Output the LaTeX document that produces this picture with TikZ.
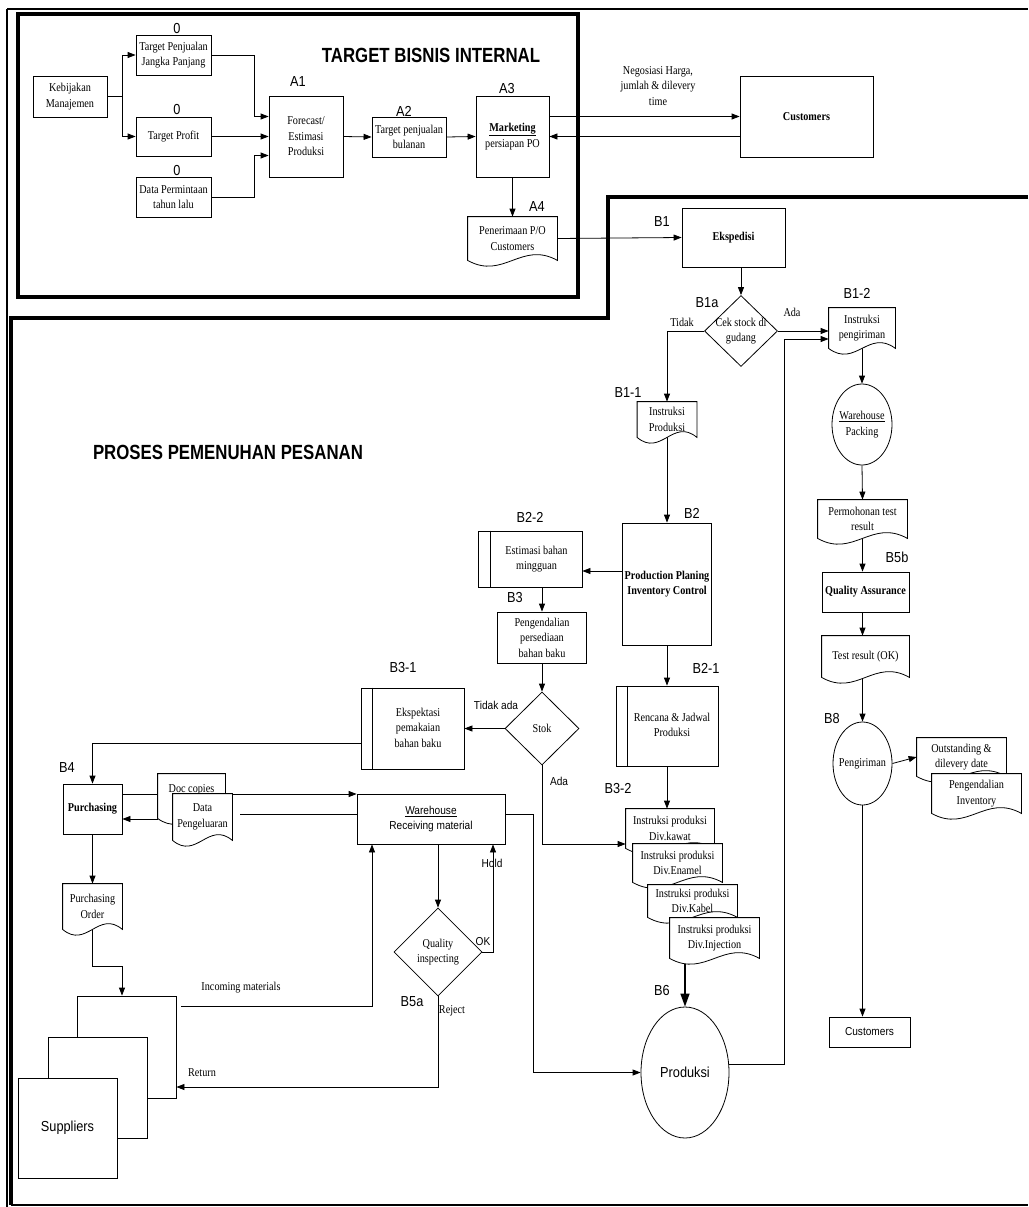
\documentclass[tikz,border=0pt]{standalone}
\usepackage{fontspec}
\setmainfont[FakeStretch=0.85]{Liberation Serif}
\newfontfamily\san[FakeStretch=0.88]{Liberation Sans}
\newfontfamily\hd[FakeStretch=0.82]{Liberation Sans}
\usetikzlibrary{shapes.geometric,arrows.meta,calc}
\pgfdeclarelayer{bg}
\pgfsetlayers{bg,main}
\newcommand\tbx[1]{\begin{tabular}{@{}c@{}}#1\end{tabular}}
\newdimen\dwA \newdimen\dwB \newdimen\dwC \newdimen\dwD
\makeatletter
\pgfdeclareshape{docu}{
  \inheritsavedanchors[from=rectangle]
  \inheritanchorborder[from=rectangle]
  \inheritanchor[from=rectangle]{center}
  \inheritanchor[from=rectangle]{north}
  \inheritanchor[from=rectangle]{south}
  \inheritanchor[from=rectangle]{east}
  \inheritanchor[from=rectangle]{west}
  \inheritanchor[from=rectangle]{north east}
  \inheritanchor[from=rectangle]{north west}
  \inheritanchor[from=rectangle]{south east}
  \inheritanchor[from=rectangle]{south west}
  \inheritanchor[from=rectangle]{text}
  \inheritanchor[from=rectangle]{base}
  \inheritanchor[from=rectangle]{mid}
  \backgroundpath{%
    \southwest \pgf@xa=\pgf@x \pgf@ya=\pgf@y
    \northeast \pgf@xb=\pgf@x \pgf@yb=\pgf@y
    \pgf@xc=\pgf@xb \advance\pgf@xc by -\pgf@xa
    \dwA=\pgf@xb \advance\dwA by -.4\pgf@xc
    \dwB=\pgf@xa \advance\dwB by .4\pgf@xc
    \dwC=\pgf@ya \advance\dwC by 20pt
    \dwD=\pgf@ya \advance\dwD by -20pt
    \pgfpathmoveto{\pgfqpoint{\pgf@xa}{\pgf@yb}}
    \pgfpathlineto{\pgfqpoint{\pgf@xb}{\pgf@yb}}
    \pgfpathlineto{\pgfqpoint{\pgf@xb}{\pgf@ya}}
    \pgfpathcurveto{\pgfqpoint{\dwA}{\dwC}}{\pgfqpoint{\dwB}{\dwD}}{\pgfqpoint{\pgf@xa}{\pgf@ya}}
    \pgfpathclose
  }
}
\makeatother
\tikzset{
 txt/.style={font=\fontsize{12}{15.5}\selectfont, align=center, inner sep=1pt},
 box/.style={txt, draw, fill=white, line width=0.8pt, rectangle},
 sbox/.style={box, font=\san\fontsize{11.5}{14.5}\selectfont},
 doc/.style={txt, draw, fill=white, line width=0.8pt, shape=docu},
 dia/.style={txt, draw, fill=white, line width=0.8pt, diamond, aspect=1},
 ell/.style={txt, draw, fill=white, line width=0.8pt, ellipse, inner sep=0pt},
 lbl/.style={font=\san\fontsize{14.5}{16}\selectfont, inner sep=0pt},
 slbl/.style={font=\san\fontsize{11.5}{13}\selectfont, inner sep=0pt},
 head/.style={font=\hd\bfseries\fontsize{20.5}{24}\selectfont, inner sep=0pt},
 arr/.style={line width=0.8pt, -{Triangle[length=8pt,width=6pt]}},
 arrB/.style={line width=1.4pt, -{Triangle[length=13pt,width=9pt]}},
 ln/.style={line width=0.8pt},
}
\begin{document}
\begin{tikzpicture}[x=1pt,y=-1pt]
\useasboundingbox (0,0) rectangle (1028,1207);
% frame
\draw[line width=2.5pt] (7,9) -- (1028,9);
\draw[line width=1.5pt] (7,9) -- (7,1207);
\draw[line width=4pt] (18,14) rectangle (578,297);
\draw[line width=4pt] (1028,197) -- (608,197) -- (608,318) -- (11,318) -- (11,1205);
\draw[line width=2pt] (11,1205) -- (1028,1205);

% ---------- top part
\node[head] (thead) at (431,55) {TARGET BISNIS INTERNAL};
\node[box, minimum width=74, minimum height=41] (keb) at (70,96.5) {Kebijakan\\Manajemen};
\node[box, minimum width=75, minimum height=40] (tpj) at (173.5,55) {Target Penjualan\\Jangka Panjang};
\node[box, minimum width=75, minimum height=39] (tpr) at (173.5,136.5) {Target Profit};
\node[box, minimum width=75, minimum height=40] (dpt) at (173.5,197) {Data Permintaan\\tahun lalu};
\node[lbl] (z1) at (177,29) {0};
\node[lbl] (z2) at (177,110) {0};
\node[lbl] (z3) at (177,171) {0};
\node[box, minimum width=74, minimum height=81] (a1) at (306,136.5) {Forecast/\\Estimasi\\Produksi};
\node[lbl] (la1) at (298,82) {A1};
\node[box, minimum width=74, minimum height=40] (a2) at (409,137) {Target penjualan\\bulanan};
\node[lbl] (la2) at (404,111) {A2};
\node[box, minimum width=73, minimum height=81] (a3) at (512.5,136.5) {\underline{\textbf{Marketing}}\\persiapan PO};
\node[lbl] (la3) at (507,89) {A3};
\node[doc, minimum width=89, minimum height=43] (a4) at (512.5,238.5) {Penerimaan P/O\\Customers};
\node[lbl] (la4) at (537,207) {A4};
\node[box, minimum width=133, minimum height=81] (cust) at (806.5,116.5) {\textbf{Customers}};
\node[txt] (neg) at (658,86) {Negosiasi Harga,\\jumlah \& dilevery\\time};

% ---------- lower part
\node[head] (phead) at (228,452) {PROSES PEMENUHAN PESANAN};
\node[box, minimum width=103, minimum height=59] (eks) at (733.5,237.5) {\textbf{Ekspedisi}};
\node[lbl] (lb1) at (662,222) {B1};
\node[dia, inner sep=-5pt, minimum width=73, minimum height=71] (b1a) at (741,331) {Cek stock di\\gudang};
\node[lbl] (lb1a) at (707,303) {B1a};
\node[txt] (ada1) at (792,312) {Ada};
\node[txt] (tdk) at (682,322) {Tidak};
\node[doc, minimum width=66, minimum height=40] (b12) at (862,328) {Instruksi\\pengiriman};
\node[lbl] (lb12) at (857,293) {B1-2};
\node[doc, minimum width=59, minimum height=35] (b11) at (667,419.5) {Instruksi\\Produksi};
\node[lbl] (lb11) at (628,393) {B1-1};
\node[box, minimum width=89, minimum height=122] (b2) at (667,584) {\textbf{Production Planing}\\\textbf{Inventory Control}};
\node[lbl] (lb2) at (692,513) {B2};
\node[box, minimum width=104, minimum height=56] (b22) at (530,559) {\hspace*{13pt}\tbx{Estimasi bahan\\mingguan}};
\draw[ln] ([xshift=13pt]b22.north west) -- ([xshift=13pt]b22.south west);
\node[lbl] (lb22) at (530,517) {B2-2};
\node[box, minimum width=89, minimum height=51] (b3) at (542,637.5) {Pengendalian\\persediaan\\bahan baku};
\node[lbl] (lb3) at (515,598) {B3};
\node[dia, inner sep=0pt, minimum width=74, minimum height=73] (stok) at (542,728.5) {Stok};
\node[slbl] (tda) at (496,705) {Tidak ada};
\node[box, minimum width=103, minimum height=81] (b31) at (412.5,728.5) {\hspace*{11pt}\tbx{Ekspektasi\\pemakaian\\bahan baku}};
\draw[ln] ([xshift=12pt]b31.north west) -- ([xshift=12pt]b31.south west);
\node[lbl] (lb31) at (403,668) {B3-1};
\node[box, minimum width=102, minimum height=80] (b21) at (667,726) {\hspace*{10pt}\tbx{Rencana \& Jadwal\\Produksi}};
\draw[ln] ([xshift=12pt]b21.north west) -- ([xshift=12pt]b21.south west);
\node[lbl] (lb21) at (706,668) {B2-1};
\node[slbl] (ada2) at (559,781) {Ada};
\node[doc, minimum width=88, minimum height=39] (d1) at (670,828.5) {Instruksi produksi\\Div.kawat};
\node[doc, minimum width=89, minimum height=38] (d2) at (677.5,863) {Instruksi produksi\\Div.Enamel};
\node[doc, minimum width=89, minimum height=32] (d3) at (692.5,901) {Instruksi produksi\\Div.Kabel};
\node[doc, minimum width=89, minimum height=40] (d4) at (714.5,938) {Instruksi produksi\\Div.Injection};
\node[lbl] (lb32) at (618,788) {B3-2};
\node[ell, font=\san\fontsize{14.5}{16}\selectfont, minimum width=88, minimum height=131] (prod) at (685,1072.5) {Produksi};
\node[lbl] (lb6) at (662,990) {B6};

% right column
\node[ell, inner xsep=-8pt, minimum width=60, minimum height=81] (wp) at (862,424.5) {\underline{Warehouse}\\Packing};
\node[doc, minimum width=89, minimum height=38] (ptr) at (862.5,519) {Permohonan test\\result};
\node[lbl] (lb5b) at (897,557) {B5b};
\node[box, minimum width=87, minimum height=40] (qa) at (865.5,592) {\textbf{Quality Assurance}};
\node[doc, minimum width=87, minimum height=41] (tr) at (865.5,656.5) {Test result (OK)};
\node[ell, inner xsep=-8pt, minimum width=59, minimum height=83] (peng) at (862.5,763.5) {Pengiriman};
\node[lbl] (lb8) at (832,718) {B8};
\node[doc, minimum width=89, minimum height=38] (out) at (961.5,757) {Outstanding \&\\dilevery date};
\node[doc, minimum width=89, minimum height=39] (pinv) at (976.5,793.5) {Pengendalian\\Inventory};
\node[sbox, minimum width=81, minimum height=30] (cust2) at (869.5,1032) {Customers};

% left part
\node[box, minimum width=59, minimum height=50] (pur) at (92.5,809) {\textbf{Purchasing}};
\node[lbl] (lb4) at (67,768) {B4};
\node[doc, minimum width=67, minimum height=44] (dc) at (191.5,796) {Doc copies\\\mbox{}};
\node[doc, minimum width=59, minimum height=46] (dpg) at (202.5,817) {Data\\Pengeluaran};
\node[sbox, minimum width=148, minimum height=50] (wh) at (431,819) {\underline{Warehouse}\\Receiving material};
\node[doc, minimum width=59, minimum height=45] (po) at (92.5,906.5) {Purchasing\\Order};
\node[box, minimum width=99, minimum height=102] (sb) at (126.5,1047) {};
\node[box, minimum width=99, minimum height=101] (sm) at (97.5,1087.5) {};
\node[sbox, font=\san\fontsize{14.5}{16}\selectfont, minimum width=99, minimum height=100] (sf) at (67.5,1128) {Suppliers};
\node[dia, inner sep=1pt, minimum width=88, minimum height=88] (qi) at (438,952) {Quality\\inspecting};
\node[lbl] (lb5a) at (412,1002) {B5a};
\node[txt] (inc) at (241,988) {Incoming materials};
\node[txt] (ret) at (202,1073) {Return};
\node[txt] (rej) at (452,1011) {Reject};
\node[slbl] (okl) at (483,942) {OK};
\node[slbl] (hold) at (492,863) {Hold};

% ---------- connectors
\begin{pgfonlayer}{bg}
\draw[arr] (keb.east) -- ++(15,0) |- (tpj.west);
\draw[arr] (keb.east) -- ++(15,0) |- (tpr.west);
\draw[arr] (tpj.east) -| ([xshift=-14pt,yshift=20pt]a1.west) -- ([yshift=20pt]a1.west);
\draw[arr] (tpr.east) -- (a1.west);
\draw[arr] (dpt.east) -| ([xshift=-14pt,yshift=-19pt]a1.west) -- ([yshift=-19pt]a1.west);
\draw[arr] (a1.east) -- (a2.west);
\draw[arr] (a2.east) -- (a3.west);
\draw[arr] (a3.south) -- (a4.north);
\draw[arr] (a3.east |- cust.west) -- (cust.west);
\draw[arr] ([yshift=-20pt]cust.west) -- (a3.east);
\draw[arr] (a4.east) -- (eks.west);

\draw[arr] (b1a.north |- eks.south) -- (b1a.north);
\draw[arr] (b1a.east) -- (b1a.east -| b12.west);
\draw[arr] (b1a.west) -| (b11.north);
\draw[arr] (b11.center) -- (b2.north);
\draw[arr] ([yshift=13pt]b2.west) -- ([yshift=-12pt]b22.east);
\draw[arr] (b3.north |- b22.south) -- (b3.north);
\draw[arr] (b3.south) -- (stok.north);
\draw[arr] (stok.west) -- (b31.east);
\draw[arr] ([yshift=-14.5pt]b31.west) -| (pur.north);
\draw[arr] (stok.south) |- ([yshift=-15.5pt]d1.west);
\draw[arr] (b2.south) -- (b21.north);
\draw[arr] (b21.south) -- (b21.south |- d1.north);
\draw[arrB] (prod.north |- d4.center) -- (prod.north);
\draw[arr] (prod.10) -| ([xshift=-44pt,yshift=-11pt]b12.west) -- ([yshift=-11pt]b12.west);
\draw[arr] ([yshift=5pt]wh.east) -| ([xshift=-107pt]prod.west) -- (prod.west);
\draw[arr] (qi.north |- wh.south) -- (qi.north);
\draw[arr] (qi.east) -| ([xshift=62pt]wh.south);
\draw[arr] (qi.south) |- ([yshift=-40pt]sb.east);
\draw[arr] ([xshift=5pt,yshift=41pt]sb.east) -| ([xshift=-59pt]wh.south);
\draw[arr] (pur.south) -- (po.north);
\draw[arr] (po.center) -- ++(0,59.5) -| ([xshift=-4.5pt]sb.north);
\draw[arr] ([yshift=15pt]pur.east) -- ([yshift=25pt]wh.west);
\draw[ln] ([yshift=5pt]wh.west) -- ([xshift=8pt,yshift=3pt]dpg.east);
\draw[arr] ([yshift=-23pt]dc.west) -- ([yshift=-10pt]pur.east);
\draw[arr] (peng.east) -- (out.west);
\draw[arr] (peng.south) -- (peng.south |- cust2.north);
\draw[arr] (b12.center) -- (wp.north);
\draw[arr] (wp.south) -- (ptr.north);
\draw[arr] (ptr.center) -- (ptr.center |- qa.north);
\draw[arr] (peng.north |- qa.south) -- (peng.north |- tr.north);
\draw[arr] (peng.north |- tr.center) -- (peng.north);
\end{pgfonlayer}
\end{tikzpicture}
\end{document}
